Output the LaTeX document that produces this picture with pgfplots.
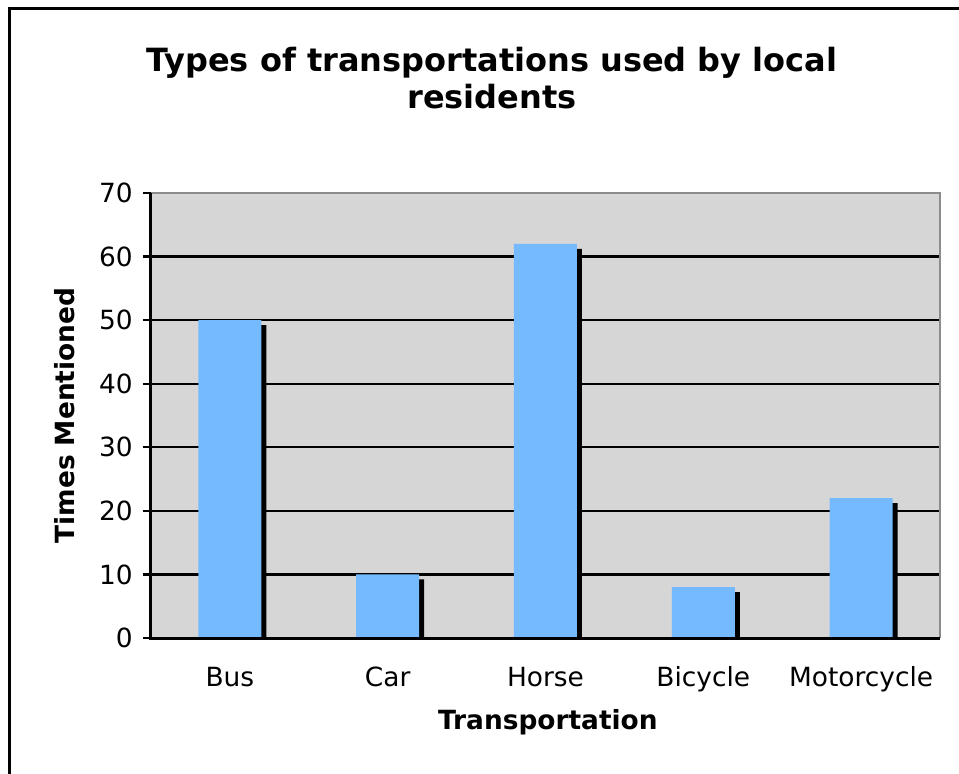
\documentclass[border=0pt]{standalone}
\usepackage{fontspec}
\setmainfont{DejaVu Sans}
\usepackage{pgfplots}
\pgfplotsset{compat=1.18}
\definecolor{plotgray}{HTML}{D6D6D6}
\definecolor{barblue}{HTML}{75BAFF}
\definecolor{edgegray}{HTML}{8C8C8C}
\begin{document}
\begin{tikzpicture}
\useasboundingbox (0,0) rectangle (479.5pt,386.5pt);
\fill[white] (0,0) rectangle (479.5pt,386.5pt);
\draw[line width=1.5pt] (4.5pt,-2pt) -- (4.5pt,382pt) -- (482pt,382pt);
\begin{axis}[
  at={(75.5pt,67.5pt)}, anchor=south west,
  scale only axis, width=394.5pt, height=222.5pt,
  font=\fontsize{13.2}{16}\selectfont,
  /pgf/number format/assume math mode=true,
  xmin=-0.5, xmax=4.5, ymin=0, ymax=70,
  ytick={0,10,...,70},
  xtick={0,1,2,3,4},
  xticklabels={Bus,Car,Horse,Bicycle,Motorcycle},
  minor xtick={-0.5,0.5,1.5,2.5,3.5,4.5},
  tick align=outside, tick pos=left,
  major tick length=4pt, minor tick length=4pt,
  xtick style={draw=none},
  minor tick style={draw=black, line width=1pt},
  ytick style={draw=black, line width=1.2pt},
  ymajorgrids, grid style={black, line width=1.2pt},
  axis line style={draw=none},
  axis background/.style={fill=plotgray},
  yticklabel style={inner sep=0pt, anchor=east, xshift=-5pt},
  xticklabel style={anchor=base, yshift=-20pt},
  xlabel={\bfseries Transportation},
  ylabel={\bfseries Times Mentioned},
  xlabel style={at={(rel axis cs:0.503,-0.2067)}, anchor=base, inner sep=0pt},
  ylabel style={at={(rel axis cs:-0.109,0.5)}, anchor=center, inner sep=0pt},
  title={Types of transportations used by local\\residents},
  title style={at={(rel axis cs:0.432,1.164)}, anchor=base, align=center, inner sep=0pt,
    font=\fontsize{16}{18.5}\selectfont\bfseries},
  ybar, bar width=31.5pt,
  clip=true,
  after end axis/.code={
    \draw[edgegray, line width=1pt] (rel axis cs:0,1) -- (rel axis cs:1,1) -- (rel axis cs:1,0);
    \draw[black, line width=1.5pt] (rel axis cs:0,1) -- (rel axis cs:0,0) -- (rel axis cs:1,0);
  },
]
\addplot[fill=black, draw=none, bar shift=2.5pt, yshift=-2.5pt] coordinates {(0,50) (1,10) (2,62) (3,8) (4,22)};
\addplot[fill=barblue, draw=none, bar shift=0pt] coordinates {(0,50) (1,10) (2,62) (3,8) (4,22)};
\end{axis}
\end{tikzpicture}
\end{document}
